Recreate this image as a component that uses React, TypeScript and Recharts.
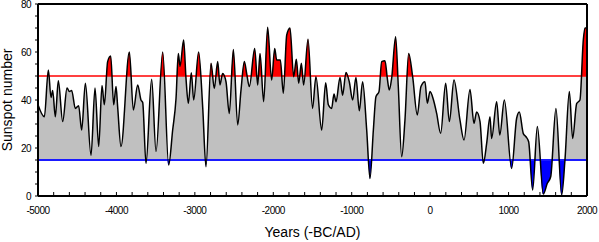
import {
  ComposedChart,
  Area,
  Line,
  XAxis,
  YAxis,
  ReferenceLine,
  Label,
} from 'recharts'

// reconstructed sunspot number at its turning points
const years = [
  -5000, -4919, -4868, -4834, -4813, -4779, -4741, -4685, -4630, -4600, -4571, -4524, -4482, -4443,
  -4396, -4324, -4273, -4226, -4184, -4154, -4112, -4073, -4035, -4005, -3984, -3942, -3835, -3784,
  -3729, -3687, -3665, -3623, -3551, -3495, -3410, -3334, -3283, -3240, -3211, -3189, -3143, -3113,
  -3083, -3045, -3015, -2952, -2900, -2858, -2794, -2752, -2709, -2680, -2646, -2603, -2561, -2509,
  -2454, -2412, -2369, -2339, -2305, -2237, -2199, -2169, -2123, -2072, -2021, -1982, -1957, -1910,
  -1872, -1829, -1787, -1740, -1706, -1676, -1642, -1613, -1557, -1500, -1456, -1383, -1332, -1298,
  -1256, -1226, -1200, -1149, -1116, -1073, -1031, -988, -946, -903, -861, -809, -767, -724, -691,
  -652, -618, -576, -546, -521, -491, -440, -406, -363, -321, -274, -223, -164, -117, -66, -36, -2,
  40, 83, 134, 198, 245, 304, 380, 432, 508, 559, 593, 636, 678, 721, 763, 784, 848, 888, 946, 1039,
  1103, 1137, 1188, 1222, 1256, 1307, 1367, 1443, 1494, 1537, 1604, 1677, 1719, 1775, 1817, 1868,
  1910, 1953, 1974, 2000,
]

const sunspots = [
  38, 33, 52.5, 41, 44, 33, 48, 31, 45, 43.5, 44, 36.5, 37.6, 27.5,
  47, 17, 45, 20.6, 46, 38, 56, 58.3, 38, 45.6, 37, 20.6, 60, 35.8,
  46.3, 40, 39, 13.6, 48.6, 18.5, 60, 12.9, 27.5, 40.7, 59.4, 54, 65, 49,
  38.6, 51.4, 40, 60, 37, 12.2, 55.3, 44.8, 56, 46.3, 51, 47.6, 34.4, 61,
  29.6, 44, 56, 51, 45.6, 61.5, 46.3, 59.4, 39.3, 70.3, 48.3, 61.5, 56.7, 56.7,
  42.8, 67, 70, 49.7, 57, 47, 55.3, 46.3, 65.3, 36.5, 49.7, 27.5, 47.2, 38,
  36.5, 42.5, 39.3, 49.4, 42, 51.5, 47.6, 40, 49.4, 35.5, 47.6, 27.5, 7.3, 27.5, 41.4,
  43.5, 56, 56.4, 49, 44.2, 49, 66.4, 45.6, 16.4, 31.7, 59.4, 49.7, 33.8, 45.6, 47.6, 38.6, 43.5,
  40.3, 34.4, 26.1, 47, 31, 48.3, 31.7, 23.3, 44.4, 30.3, 35, 31, 13.6, 22, 33, 24, 39.3, 25.4, 40, 11.5,
  32.4, 35, 26, 24.7, 22.6, 2.5, 29, 0.8, 5.3, 8, 36.5, 0.4, 15, 43.5, 24, 38.5,
  40, 65, 70, 70,
]

const HIGH = 50
const LOW = 15
const Y_MAX = 80

const yTicks = Array.from({ length: 17 }, (_, i) => i * 5)
const xTicks = Array.from({ length: 36 }, (_, i) => -5000 + i * 200)

const W = 599
const H = 242
const TOP = 4
const X_AXIS_H = 46
const PLOT_H = H - TOP - X_AXIS_H

const data = years.map((year, i) => ({
  year,
  ssn: sunspots[i],
  band: [LOW, sunspots[i]],
}))

const tickStyle = { fontSize: 10, fill: '#000', fontFamily: 'Liberation Sans, Arial, sans-serif', letterSpacing: -0.5 }
const axisLine = { stroke: '#000', strokeWidth: 2 }

export default function App() {
  const hiStop = (Y_MAX - HIGH) / Y_MAX
  const loStop = (Y_MAX - LOW) / Y_MAX
  return (
    <div style={{ position: 'absolute', left: 0, top: 0, background: '#fff' }}>
      <ComposedChart width={W} height={H} data={data} margin={{ top: TOP, right: 0, left: 0, bottom: 0 }}>
        <defs>
          <linearGradient id="bands" gradientUnits="userSpaceOnUse" x1={0} y1={TOP} x2={0} y2={TOP + PLOT_H}>
            <stop offset={0} stopColor="#ff0000" />
            <stop offset={hiStop} stopColor="#ff0000" />
            <stop offset={hiStop} stopColor="#c0c0c0" />
            <stop offset={loStop} stopColor="#c0c0c0" />
            <stop offset={loStop} stopColor="#0000ff" />
            <stop offset={1} stopColor="#0000ff" />
          </linearGradient>
        </defs>
        <XAxis
          dataKey="year"
          type="number"
          domain={[-5000, 2000]}
          ticks={xTicks}
          interval={0}
          height={X_AXIS_H}
          tickSize={-4}
          tickMargin={15}
          tickLine={{ stroke: '#000' }}
          axisLine={axisLine}
          tick={tickStyle}
          tickFormatter={(v: number) => (v % 1000 === 0 ? String(v) : '')}
        >
          <Label
            value="Years (-BC/AD)"
            position="insideBottom"
            offset={5}
            style={{ fontSize: 14, fill: '#000', fontFamily: 'Liberation Sans, Arial, sans-serif' }}
          />
        </XAxis>
        <YAxis
          domain={[0, Y_MAX]}
          ticks={yTicks}
          interval={0}
          width={38}
          tickSize={3}
          tickMargin={4}
          tickLine={{ stroke: '#000' }}
          axisLine={axisLine}
          tick={tickStyle}
          tickFormatter={(v: number) => (v % 20 === 0 ? String(v) : '')}
        >
          <Label
            content={({ viewBox }: any) => {
              const cx = viewBox.x + 7
              const cy = viewBox.y + viewBox.height / 2
              return (
                <text
                  x={cx}
                  y={cy}
                  transform={`rotate(-90 ${cx} ${cy})`}
                  textAnchor="middle"
                  dominantBaseline="central"
                  style={{ fontSize: 14, fill: '#000', fontFamily: 'Liberation Sans, Arial, sans-serif' }}
                >
                  Sunspot number
                </text>
              )
            }}
          />
        </YAxis>
        <YAxis
          yAxisId="right"
          orientation="right"
          domain={[0, Y_MAX]}
          ticks={yTicks}
          interval={0}
          width={12}
          tickSize={-3}
          tick={false}
          tickLine={{ stroke: '#000' }}
          axisLine={axisLine}
        />
        <Area
          dataKey="band"
          type="monotone"
          stroke="none"
          fill="url(#bands)"
          fillOpacity={1}
          isAnimationActive={false}
        />
        <ReferenceLine y={HIGH} stroke="#ff0000" strokeWidth={1.5} />
        <ReferenceLine y={LOW} stroke="#1a1aff" strokeWidth={2} />
        <ReferenceLine y={Y_MAX} stroke="#000" strokeWidth={2} />
        <Line
          dataKey="ssn"
          type="monotone"
          stroke="#000"
          strokeWidth={1.5}
          dot={false}
          isAnimationActive={false}
        />
      </ComposedChart>
    </div>
  )
}
